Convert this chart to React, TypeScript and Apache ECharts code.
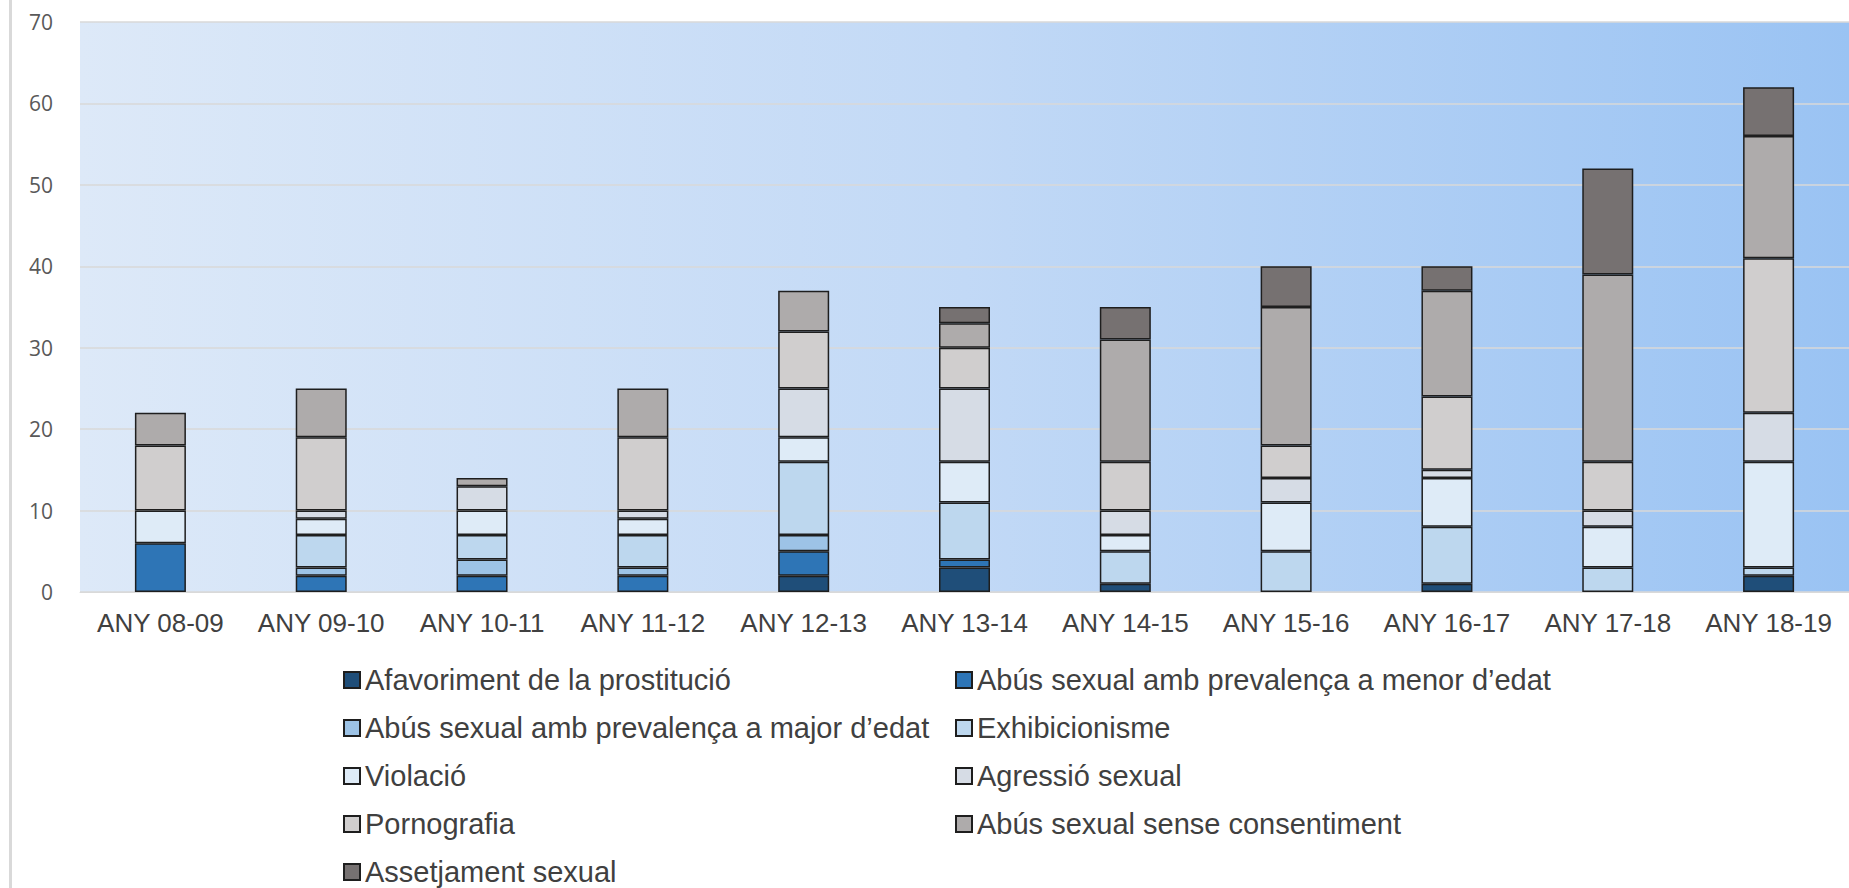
import React, { useEffect, useRef } from "react";
import * as echarts from "echarts";

const categories = [
  "ANY 08-09", "ANY 09-10", "ANY 10-11", "ANY 11-12", "ANY 12-13", "ANY 13-14",
  "ANY 14-15", "ANY 15-16", "ANY 16-17", "ANY 17-18", "ANY 18-19",
];

const seriesNames = [
  "Afavoriment de la prostitució",
  "Abús sexual amb prevalença a menor d’edat",
  "Abús sexual amb prevalença a major d’edat",
  "Exhibicionisme",
  "Violació",
  "Agressió sexual",
  "Pornografia",
  "Abús sexual sense consentiment",
  "Assetjament sexual",
];

const afavoriment = [0, 0, 0, 0, 2, 3, 1, 0, 1, 0, 2];
const abusMenor = [6, 2, 2, 2, 3, 1, 0, 0, 0, 0, 0];
const abusMajor = [0, 1, 2, 1, 2, 0, 0, 0, 0, 0, 0];
const exhibicionisme = [0, 4, 3, 4, 9, 7, 4, 5, 7, 3, 1];
const violacio = [4, 2, 3, 2, 3, 5, 2, 6, 6, 5, 13];
const agressio = [0, 1, 3, 1, 6, 9, 3, 3, 1, 2, 6];
const pornografia = [8, 9, 0, 9, 7, 5, 6, 4, 9, 6, 19];
const senseConsentiment = [4, 6, 1, 6, 5, 3, 15, 17, 13, 23, 15];
const assetjament = [0, 0, 0, 0, 0, 2, 4, 5, 3, 13, 6];

const seriesValues = [
  afavoriment, abusMenor, abusMajor, exhibicionisme, violacio,
  agressio, pornografia, senseConsentiment, assetjament,
];

const colors = [
  "#1f4e79", "#2e75b6", "#9dc3e6", "#bdd7ee", "#deebf7",
  "#d6dce5", "#d0cece", "#aeabab", "#767171",
];

const yTicks = [0, 10, 20, 30, 40, 50, 60, 70];

export default function App() {
  const ref = useRef<HTMLDivElement>(null);

  useEffect(() => {
    if (!ref.current) return;
    const chart = echarts.init(ref.current, null, { renderer: "svg" });

    const series = seriesNames.map((name, i) => ({
      name,
      type: "bar",
      stack: "total",
      barWidth: 51,
      data: seriesValues[i].map((v) => (v === 0 ? "-" : v)),
      itemStyle: {
        color: colors[i],
        borderColor: "#1e1e1e",
        borderWidth: 1.5,
      },
    }));

    const legendCommon = {
      orient: "vertical",
      padding: 0,
      itemWidth: 16,
      itemHeight: 16,
      itemGap: 18,
      icon: "rect",
      selectedMode: false,
      textStyle: {
        fontFamily: "Liberation Sans, Arial, sans-serif",
        fontSize: 29,
        lineHeight: 30,
        color: "#404040",
      },
    };

    chart.setOption({
      animation: false,
      backgroundColor: "#ffffff",
      grid: {
        left: 80,
        top: 22,
        width: 1771,
        height: 570,
        show: true,
        borderWidth: 0,
        backgroundColor: new echarts.graphic.LinearGradient(0, 0, 1, 0, [
          { offset: 0, color: "#dde9f8" },
          { offset: 0.5, color: "#c2d9f6" },
          { offset: 1, color: "#9ac3f3" },
        ]),
      },
      xAxis: {
        type: "category",
        data: categories,
        axisLine: { show: true, lineStyle: { color: "#d9d9d9", width: 1 } },
        axisTick: { show: false },
        axisLabel: {
          interval: 0,
          margin: 18,
          fontFamily: "Liberation Sans, Arial, sans-serif",
          fontSize: 26,
          color: "#404040",
        },
      },
      yAxis: {
        type: "value",
        min: yTicks[0],
        max: yTicks[yTicks.length - 1],
        interval: 10,
        axisLine: { show: false },
        axisTick: { show: false },
        splitLine: { lineStyle: { color: "#d9d9d9", width: 1.5 } },
        axisLabel: {
          margin: 27,
          fontFamily: "Open Sans, sans-serif",
          fontSize: 21,
          color: "#595959",
        },
      },
      legend: [
        {
          ...legendCommon,
          left: 343,
          top: 665,
          data: [seriesNames[0], seriesNames[2], seriesNames[4], seriesNames[6], seriesNames[8]],
        },
        {
          ...legendCommon,
          left: 955,
          top: 665,
          data: [seriesNames[1], seriesNames[3], seriesNames[5], seriesNames[7]],
        },
      ],
      graphic: [
        {
          type: "rect",
          shape: { x: 9, y: 0, width: 3, height: 888 },
          style: { fill: "#d9d9d9" },
          silent: true,
        },
      ],
      series,
    });

    return () => chart.dispose();
  }, []);

  return (
    <div
      ref={ref}
      style={{ position: "fixed", left: 0, top: 0, width: 1849, height: 888 }}
    />
  );
}
